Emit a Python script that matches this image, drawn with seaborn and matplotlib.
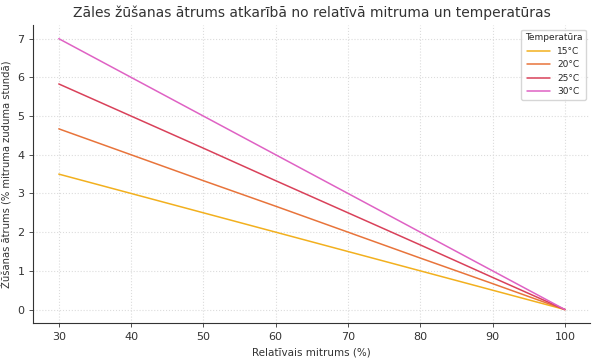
import matplotlib
matplotlib.use("Agg")
import matplotlib.pyplot as plt
import seaborn as sns
import pandas as pd

# relative humidity (%)
humidity = [30, 40, 50, 60, 70, 80, 90, 100]
# drying rate (% of moisture lost per hour) per temperature
rate_15 = [3.5, 3.0, 2.5, 2.0, 1.5, 1.0, 0.5, 0.0]
rate_20 = [4.67, 4.0, 3.33, 2.67, 2.0, 1.33, 0.67, 0.0]
rate_25 = [5.83, 5.0, 4.17, 3.33, 2.5, 1.67, 0.83, 0.0]
rate_30 = [7.0, 6.0, 5.0, 4.0, 3.0, 2.0, 1.0, 0.0]
temps = ["15°C", "20°C", "25°C", "30°C"]
colors = ["#f2b01e", "#e8743b", "#d9415a", "#df62c4"]

df = pd.DataFrame({
    "Relatīvais mitrums (%)": humidity * 4,
    "rate": rate_15 + rate_20 + rate_25 + rate_30,
    "Temperatūra": [t for t in temps for _ in humidity],
})

sns.set_style("whitegrid", {"grid.linestyle": ":", "grid.color": "#dcdcdc",
                            "axes.edgecolor": "#333333",
                            "xtick.bottom": True, "ytick.left": True})
plt.rcParams["font.family"] = ["DejaVu Sans"]

fig, ax = plt.subplots(figsize=(5.98, 3.59), dpi=100)
fig.subplots_adjust(left=0.056, right=0.987, bottom=0.10, top=0.93)

sns.lineplot(data=df, x="Relatīvais mitrums (%)", y="rate", hue="Temperatūra",
             palette=colors, linewidth=1.1, ax=ax)

ax.set_title("Zāles žūšanas ātrums atkarībā no relatīvā mitruma un temperatūras",
             fontsize=10, color="#333333")
ax.set_xlabel("Relatīvais mitrums (%)", fontsize=7.5, color="#333333")
ax.set_ylabel("Žūšanas ātrums (% mitruma zuduma stundā)", fontsize=7.2, color="#333333")
ax.tick_params(labelsize=8, colors="#333333", length=3, width=0.6)
ax.set_xticks([30, 40, 50, 60, 70, 80, 90, 100])
for s in ["left", "bottom"]:
    ax.spines[s].set_linewidth(0.8)
sns.despine(ax=ax)

leg = ax.legend(title="Temperatūra", fontsize=6.5, title_fontsize=6.5,
                loc="upper right", frameon=True, handlelength=2.5)

fig.savefig("out.png", dpi=100)
